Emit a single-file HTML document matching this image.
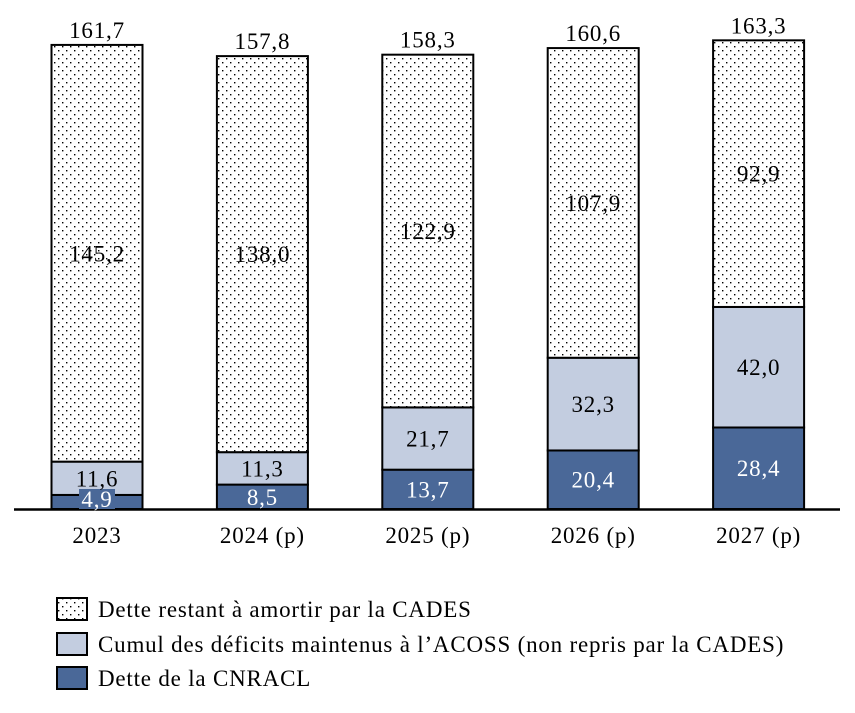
<!DOCTYPE html>
<html><head><meta charset="utf-8">
<style>
body{margin:0;background:#fff;}
svg text{font-family:"Liberation Serif","DejaVu Serif",serif;font-size:23px;letter-spacing:0.8px;}
</style></head>
<body>
<svg id="chart" width="855" height="708" xmlns="http://www.w3.org/2000/svg">
<defs>
<pattern id="dots" width="8" height="8" patternUnits="userSpaceOnUse">
<rect width="8" height="8" fill="#fff"/>
<rect x="2" y="2" width="1.4" height="1.4" fill="#000"/>
<rect x="6" y="6" width="1.4" height="1.4" fill="#000"/>
</pattern>
</defs>
<g id="bars"></g>
<line x1="14" y1="509.5" x2="840" y2="509.5" stroke="#000" stroke-width="2.5"/>
<g id="labels"></g>
<g>
<rect x="57" y="598" width="30" height="22" fill="url(#dots)" stroke="#000" stroke-width="2"/>
<text x="98" y="617">Dette restant à amortir par la CADES</text>
<rect x="57" y="633" width="30" height="22" fill="#c3cde0" stroke="#000" stroke-width="2"/>
<text x="98" y="652">Cumul des déficits maintenus à l’ACOSS (non repris par la CADES)</text>
<rect x="57" y="667" width="30" height="22" fill="#4a6898" stroke="#000" stroke-width="2"/>
<text x="98" y="686">Dette de la CNRACL</text>
</g>
</svg>
<script>
const categories = ["2023","2024 (p)","2025 (p)","2026 (p)","2027 (p)"];
const cnracl = [4.9, 8.5, 13.7, 20.4, 28.4];
const acoss = [11.6, 11.3, 21.7, 32.3, 42.0];
const cades = [145.2, 138.0, 122.9, 107.9, 92.9];
const totals = [161.7, 157.8, 158.3, 160.6, 163.3];

const NS = "http://www.w3.org/2000/svg";
const base = 509, scale = 2.87, x0 = 97, step = 165.4, bw = 91;
const y = v => base - v * scale;
const xc = i => x0 + i * step;
const fmt = v => v.toFixed(1).replace('.', ',');
const gb = document.getElementById('bars');
const gl = document.getElementById('labels');
function mk(g, tag, attrs){const e=document.createElementNS(NS,tag);for(const k in attrs)e.setAttribute(k,attrs[k]);g.appendChild(e);return e;}
const series = [
  {vals: cnracl, fill: "#4a6898", color: "#fff", key: "cnracl"},
  {vals: acoss, fill: "#c3cde0", color: "#000", key: "acoss"},
  {vals: cades, fill: "url(#dots)", color: "#000", key: "cades"}
];
categories.forEach((c, i) => {
  let cum = 0;
  series.forEach(s => {
    const v = s.vals[i];
    const top = y(cum + v), bot = y(cum);
    const r = mk(gb, 'rect', {x: xc(i) - bw/2, y: top, width: bw, height: bot - top, fill: s.fill, stroke: "#000", "stroke-width": 2});
    
    
    let ty = (top + bot) / 2 + 8;
    if (bot - top < 22) {
      ty = bot - 2;
      const bg = mk(gl, 'rect', {x: xc(i) - 18, y: bot - 20, width: 36, height: 20, fill: s.fill});
      
      
    }
    const t = mk(gl, 'text', {x: xc(i), y: ty, "text-anchor": "middle", fill: s.color});
    t.textContent = fmt(v);
    
    
    cum += v;
  });
  const tt = mk(gl, 'text', {x: xc(i), y: y(totals[i]) - 7, "text-anchor": "middle"});
  tt.textContent = fmt(totals[i]);
  
  
  const xl = mk(gl, 'text', {x: xc(i), y: 543, "text-anchor": "middle"});
  xl.textContent = c;
  
  
});
</script>
</body></html>
